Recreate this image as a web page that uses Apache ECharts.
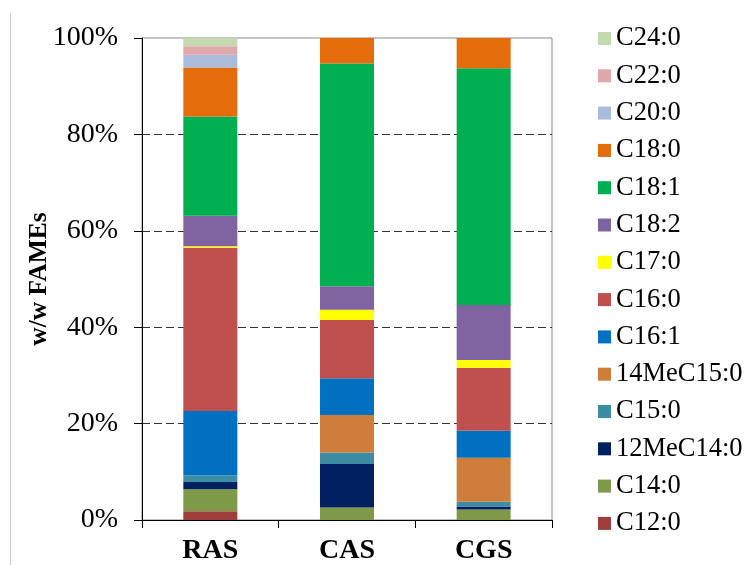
<!DOCTYPE html>
<html>
<head>
<meta charset="utf-8">
<script src="https://cdn.jsdelivr.net/npm/echarts@6/dist/echarts.min.js"></script>
<style>
html,body{margin:0;padding:0;background:#fff;}
#chart{width:748px;height:565px;}
</style>
</head>
<body>
<div id="chart"></div>
<script>
const categories = ['RAS', 'CAS', 'CGS'];
const yTicks = [0, 20, 40, 60, 80, 100];
// bottom-to-top stacking order
const seriesNames = ['C12:0','C14:0','12MeC14:0','C15:0','14MeC15:0','C16:1','C16:0','C17:0','C18:2','C18:1','C18:0','C20:0','C22:0','C24:0'];
const C12_0     = [1.8, 0, 0];
const C14_0     = [4.6, 2.6, 2.2];
const Me12C14_0 = [1.5, 9.0, 0.6];
const C15_0     = [1.4, 2.4, 1.0];
const Me14C15_0 = [0, 7.8, 9.1];
const C16_1     = [13.3, 7.6, 5.6];
const C16_0     = [33.9, 12.1, 13.1];
const C17_0     = [0.3, 2.1, 1.6];
const C18_2     = [6.3, 4.9, 11.4];
const C18_1     = [20.6, 46.2, 49.1];
const C18_0     = [10.2, 5.3, 6.3];
const C20_0     = [2.6, 0, 0];
const C22_0     = [1.8, 0, 0];
const C24_0     = [1.7, 0, 0];
const seriesValues = [C12_0, C14_0, Me12C14_0, C15_0, Me14C15_0, C16_1, C16_0, C17_0, C18_2, C18_1, C18_0, C20_0, C22_0, C24_0];
const colors = ['#A03E3D','#7E9A48','#002060','#3C8DA3','#CF7D3A','#0070C0','#C0504D','#FFFF00','#8064A2','#00B050','#E46C0A','#A9BCDC','#DFA8AA','#C5D9B0'];

const font = 'Liberation Serif, Times New Roman, serif';
const chart = echarts.init(document.getElementById('chart'), null, {renderer: 'canvas'});

const series = seriesNames.map((n, i) => ({
  name: n,
  type: 'bar',
  stack: 'total',
  barWidth: 54,
  data: seriesValues[i],
  itemStyle: {color: colors[i]},
  emphasis: {disabled: true}
}));

chart.setOption({
  animation: false,
  color: colors,
  grid: {left: 142, right: 196, top: 38, bottom: 45, show: true, borderColor: '#888', borderWidth: 1, backgroundColor: 'transparent'},
  legend: {
    orient: 'vertical',
    left: 598,
    top: 25,
    padding: 0,
    data: seriesNames.slice().reverse(),
    icon: 'rect',
    itemWidth: 13,
    itemHeight: 13,
    itemGap: 10.3,
    selectedMode: false,
    textStyle: {fontFamily: font, fontSize: 26.5, color: '#000', lineHeight: 26}
  },
  xAxis: {
    type: 'category',
    data: categories,
    axisLine: {lineStyle: {color: '#000', width: 1}},
    axisTick: {show: true, length: 8, alignWithLabel: false, lineStyle: {color: '#000'}},
    axisLabel: {fontFamily: font, fontSize: 28, fontWeight: 'bold', color: '#000', margin: 17}
  },
  yAxis: {
    type: 'value',
    min: yTicks[0],
    max: yTicks[yTicks.length - 1],
    interval: 20,
    name: 'w/w FAMEs',
    nameLocation: 'middle',
    nameGap: 90,
    nameMoveOverlap: false,
    nameTextStyle: {fontFamily: font, fontSize: 25.5, fontWeight: 'bold', color: '#000'},
    axisLine: {show: true, lineStyle: {color: '#000', width: 1}},
    axisTick: {show: true, length: 8, lineStyle: {color: '#000'}},
    axisLabel: {fontFamily: font, fontSize: 28, color: '#000', margin: 24, formatter: '{value}%'},
    splitLine: {show: true, showMaxLine: false, lineStyle: {color: '#333', type: [8, 4], width: 1}}
  },
  graphic: [{
    type: 'line',
    shape: {x1: 10.5, y1: 13, x2: 10.5, y2: 565},
    style: {stroke: '#cccccc', lineWidth: 1},
    silent: true
  }],
  series: series
});
</script>
</body>
</html>
